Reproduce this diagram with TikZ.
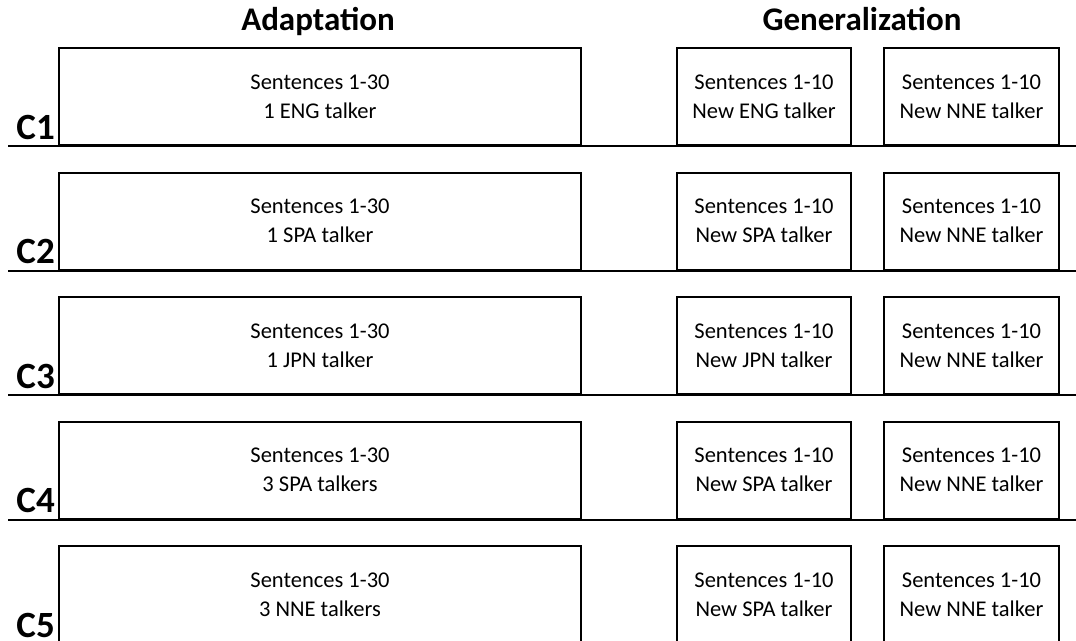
\documentclass[tikz,border=0pt]{standalone}
\usepackage{fontspec}
\setmainfont{Carlito}
\usetikzlibrary{positioning}

\begin{document}
\begin{tikzpicture}
        [x = 1pt, y = -1pt,
        every node/.style = {inner sep = 0},
        block/.style = {rectangle, draw, line width = 2pt, minimum height = 97pt, align = center, font = {\fontsize{22.5}{29}\selectfont}},
        phase/.style = {anchor = base, font = {\fontsize{33}{36}\selectfont\bfseries}},
        cond/.style = {anchor = base east, font = {\fontsize{37}{40}\selectfont\bfseries}},
        node distance = 94pt]
        \useasboundingbox (0, 0) rectangle (1076, 640);
        \clip (0, 0) rectangle (1076, 640);
        \node[phase] (adapthead) at (318, 30) {Adaptation};
        \node[phase] (genhead) at (862, 30) {Generalization};
        \foreach \i/\talk/\gen in {1/1 ENG talker/New ENG talker, 2/1 SPA talker/New SPA talker, 3/1 JPN talker/New JPN talker, 4/3 SPA talkers/New SPA talker, 5/3 NNE talkers/New SPA talker} {
            \pgfmathsetmacro{\base}{146 + 124.5*(\i - 1)}
            \node[block, minimum width = 522pt, anchor = south west] (adapt\i) at (58, \base) {Sentences 1-30\\\talk};
            \node[block, minimum width = 174pt, right = of adapt\i] (gennew\i) {Sentences 1-10\\\gen};
            \node[block, minimum width = 175pt, right = 31pt of gennew\i] (gennne\i) {Sentences 1-10\\New NNE talker};
            \node[cond] (c\i) at (55, \base - 7) {C\i};
            \coordinate (left\i) at (8, \base);
            \coordinate (right\i) at (1076, \base);
            \draw[line width = 2pt] (left\i) -- (right\i);
        }
    \end{tikzpicture}
\end{document}
